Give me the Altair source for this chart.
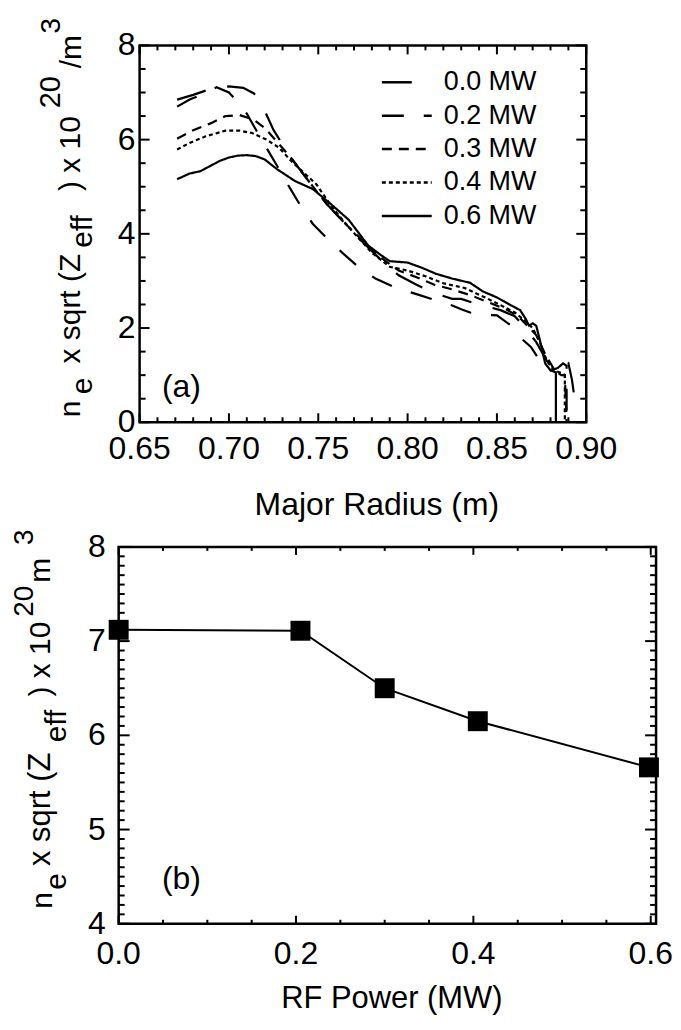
import altair as alt
import pandas as pd

FONT = "Liberation Sans"

# ---------------- panel (a) data: density profiles ----------------
SERIES = ["0.0 MW", "0.2 MW", "0.3 MW", "0.4 MW", "0.6 MW"]
DASHES = [[30, 22], [22, 20], [10, 7], [4, 3], [1, 0]]

R_00 = [0.671, 0.680, 0.690, 0.700, 0.708, 0.714, 0.718, 0.725, 0.735, 0.745,
        0.755, 0.765, 0.775, 0.785, 0.795, 0.805, 0.815, 0.825, 0.830, 0.838,
        0.845, 0.852, 0.860, 0.866, 0.872, 0.878, 0.883, 0.888, 0.890, 0.892, 0.894]
N_00 = [6.85, 6.95, 7.08, 7.13, 7.10, 6.98, 6.78, 6.20, 5.60, 5.10,
        4.62, 4.22, 3.82, 3.45, 3.12, 2.92, 2.74, 2.62, 2.62, 2.52,
        2.45, 2.38, 2.25, 2.00, 1.70, 1.30, 1.15, 1.20, 1.25, 0.90, 0.36]

R_02 = [0.671, 0.678, 0.685, 0.693, 0.700, 0.705, 0.710, 0.716, 0.722, 0.727,
        0.734, 0.740, 0.747, 0.755, 0.764, 0.773, 0.782, 0.793, 0.805, 0.815,
        0.825, 0.830, 0.835, 0.842, 0.850, 0.858, 0.863, 0.869, 0.875, 0.880,
        0.884, 0.887, 0.889, 0.889]
N_02 = [6.70, 6.85, 6.96, 7.11, 7.00, 6.80, 6.55, 6.15, 5.76, 5.44,
        4.98, 4.60, 4.21, 3.90, 3.58, 3.28, 3.05, 2.86, 2.72, 2.60,
        2.48, 2.40, 2.33, 2.28, 2.27, 2.05, 1.80, 1.60, 1.25, 1.10,
        1.15, 1.25, 1.20, 0.0]

R_03 = [0.671, 0.680, 0.690, 0.698, 0.706, 0.714, 0.720, 0.727, 0.735, 0.745,
        0.755, 0.765, 0.775, 0.785, 0.795, 0.805, 0.815, 0.825, 0.835, 0.845,
        0.855, 0.862, 0.867, 0.872, 0.877, 0.882, 0.886, 0.888, 0.889]
N_03 = [6.02, 6.20, 6.35, 6.50, 6.52, 6.42, 6.25, 5.95, 5.60, 5.10,
        4.62, 4.22, 3.85, 3.50, 3.22, 3.08, 2.92, 2.82, 2.70, 2.55,
        2.40, 2.25, 2.05, 1.85, 1.45, 1.12, 1.00, 1.00, 0.0]

R_04 = [0.671, 0.678, 0.687, 0.698, 0.706, 0.713, 0.721, 0.728, 0.735, 0.743,
        0.749, 0.758, 0.768, 0.780, 0.790, 0.800, 0.810, 0.820, 0.832, 0.845,
        0.855, 0.860, 0.866, 0.870, 0.874, 0.878, 0.882, 0.886, 0.888, 0.888]
N_04 = [5.79, 5.93, 6.07, 6.19, 6.19, 6.14, 6.00, 5.83, 5.54, 5.26,
        5.05, 4.55, 4.10, 3.60, 3.30, 3.22, 3.10, 2.95, 2.85, 2.62,
        2.43, 2.33, 2.15, 2.00, 1.70, 1.30, 1.10, 1.05, 1.00, 0.0]

R_06 = [0.671, 0.678, 0.684, 0.690, 0.695, 0.700, 0.705, 0.710, 0.715, 0.720,
        0.727, 0.737, 0.747, 0.758, 0.767, 0.771, 0.778, 0.785, 0.790, 0.800,
        0.808, 0.816, 0.825, 0.835, 0.842, 0.850, 0.857, 0.863, 0.866, 0.868,
        0.870, 0.872, 0.874, 0.877, 0.880, 0.883, 0.883]
N_06 = [5.16, 5.28, 5.33, 5.45, 5.55, 5.62, 5.66, 5.67, 5.65, 5.58,
        5.37, 5.12, 4.95, 4.60, 4.30, 4.10, 3.75, 3.55, 3.42, 3.39,
        3.28, 3.15, 3.05, 2.96, 2.78, 2.65, 2.50, 2.38, 2.20, 2.05,
        2.10, 2.05, 1.75, 1.25, 1.10, 1.06, 0.0]

TOP_X_MAJOR = [0.65, 0.70, 0.75, 0.80, 0.85, 0.90]
TOP_X_LABELS = ["0.65", "0.70", "0.75", "0.80", "0.85", "0.90"]
TOP_X_MINOR = [0.66, 0.67, 0.68, 0.69, 0.71, 0.72, 0.73, 0.74, 0.76, 0.77, 0.78, 0.79,
               0.81, 0.82, 0.83, 0.84, 0.86, 0.87, 0.88, 0.89]
TOP_Y_MAJOR = [0, 2, 4, 6, 8]
TOP_Y_LABELS = ["0", "2", "4", "6", "8"]
TOP_Y_MINOR = [0.5, 1, 1.5, 2.5, 3, 3.5, 4.5, 5, 5.5, 6.5, 7, 7.5]

# ---------------- panel (b) data: peak value vs RF power ----------------
RF_POWER = [0.0, 0.205, 0.30, 0.405, 0.598]
PEAK = [7.12, 7.11, 6.50, 6.15, 5.66]

BOT_X_MAJOR = [0.0, 0.2, 0.4, 0.6]
BOT_X_LABELS = ["0.0", "0.2", "0.4", "0.6"]
BOT_X_MINOR = [0.05, 0.1, 0.15, 0.25, 0.3, 0.35, 0.45, 0.5, 0.55]
BOT_Y_MAJOR = [4, 5, 6, 7, 8]
BOT_Y_LABELS = ["4", "5", "6", "7", "8"]
BOT_Y_MINOR = [4.1, 4.2, 4.3, 4.4, 4.5, 4.6, 4.7, 4.8, 4.9,
               5.1, 5.2, 5.3, 5.4, 5.5, 5.6, 5.7, 5.8, 5.9,
               6.1, 6.2, 6.3, 6.4, 6.5, 6.6, 6.7, 6.8, 6.9,
               7.1, 7.2, 7.3, 7.4, 7.5, 7.6, 7.7, 7.8, 7.9]

# ---------------- layout constants ----------------
W = 539
H = 378
TOP_RANGE = [21, 469]
LW = 2.2

rows = []
for name, xs, ys in zip(SERIES, [R_00, R_02, R_03, R_04, R_06], [N_00, N_02, N_03, N_04, N_06]):
    for i, (a, b) in enumerate(zip(xs, ys)):
        rows.append({"series": name, "r": a, "n": b, "o": i})
top_df = pd.DataFrame(rows)


def txt(text, x, y, size, angle=0, align="left", baseline="alphabetic"):
    return alt.Chart(pd.DataFrame({"t": [text]})).mark_text(
        font=FONT, fontSize=size, angle=angle, align=align, baseline=baseline, color="black"
    ).encode(text="t:N", x=alt.value(x), y=alt.value(y))


def vals(v, labels=None):
    d = {"v": v}
    if labels is not None:
        d["lab"] = labels
    return pd.DataFrame(d)


def frame_ticks(xmaj, xmin, ymaj, ymin, x0, x1, xmaj_len, xmin_len, ymaj_len, ymin_len):
    out = []
    for vs, L in [(xmaj, xmaj_len), (xmin, xmin_len)]:
        out.append(alt.Chart(vals(vs)).mark_rule(color="black", strokeWidth=2).encode(
            x="v:Q", y=alt.value(H), y2=alt.value(H - L)))
        out.append(alt.Chart(vals(vs)).mark_rule(color="black", strokeWidth=2).encode(
            x="v:Q", y=alt.value(0), y2=alt.value(L)))
    for vs, L in [(ymaj, ymaj_len), (ymin, ymin_len)]:
        out.append(alt.Chart(vals(vs)).mark_rule(color="black", strokeWidth=2, x2Offset=L).encode(
            y="v:Q", x=alt.datum(x0), x2=alt.datum(x0)))
        out.append(alt.Chart(vals(vs)).mark_rule(color="black", strokeWidth=2, x2Offset=-L).encode(
            y="v:Q", x=alt.datum(x1), x2=alt.datum(x1)))
    return out


# ================= panel (a) =================
top_x = alt.Scale(domain=[0.65, 0.90], range=TOP_RANGE, nice=False, zero=False)
top_y = alt.Scale(domain=[0, 8], nice=False, zero=False)

lines_a = alt.Chart(top_df).mark_line(color="black", strokeWidth=LW, clip=True).encode(
    x=alt.X("r:Q", scale=top_x, axis=None),
    y=alt.Y("n:Q", scale=top_y, axis=None),
    detail="series:N",
    order="o:Q",
    strokeDash=alt.StrokeDash("series:N", scale=alt.Scale(domain=SERIES, range=DASHES), legend=None),
)

frame_a = alt.Chart(vals([0])).mark_rect(fillOpacity=0, stroke="black", strokeWidth=2.5).encode(
    x=alt.datum(0.65), x2=alt.datum(0.90), y=alt.datum(0), y2=alt.datum(8))

# invisible corner that pins the page origin (top-left of the picture area)
anchor = alt.Chart(vals([0])).mark_rect(opacity=0).encode(
    x=alt.value(-111), x2=alt.value(-105), y=alt.value(-36), y2=alt.value(-30))

xlab_a = alt.Chart(vals(TOP_X_MAJOR, TOP_X_LABELS)).mark_text(
    font=FONT, fontSize=32, baseline="top", align="center", color="black").encode(
    x="v:Q", y=alt.value(H + 12), text="lab:N")
ylab_a = alt.Chart(vals(TOP_Y_MAJOR, TOP_Y_LABELS)).mark_text(
    font=FONT, fontSize=32, baseline="middle", align="right", color="black", dx=-4).encode(
    y="v:Q", x=alt.datum(0.65), text="lab:N")

legend_a = []
for i, name in enumerate(SERIES):
    yy = 37 + 33.5 * i
    legend_a.append(alt.Chart(vals([0])).mark_rule(color="black", strokeWidth=2.5, strokeDash=DASHES[i]).encode(
        x=alt.value(264), x2=alt.value(314), y=alt.value(yy)))
    legend_a.append(txt(name, 326, yy, 27, baseline="middle"))

title_a = [
    txt("n", -39, 373, 30, angle=270),
    txt("e", -27, 350, 30, angle=270),
    txt("x sqrt (Z", -39, 319, 30, angle=270),
    txt("eff", -27, 203, 30, angle=270),
    txt(") x 10", -39, 146, 30, angle=270),
    txt("20", -59, 63, 29, angle=270),
    txt("/m", -38, 23, 30, angle=270),
    txt("3", -59, -12, 28, angle=270),
    txt("Major Radius (m)", 259, 471, 32, align="center"),
    txt("(a)", 63, 343, 32, align="center", baseline="middle"),
]

top = alt.layer(
    anchor, lines_a, frame_a, xlab_a, ylab_a,
    *frame_ticks(TOP_X_MAJOR, TOP_X_MINOR, TOP_Y_MAJOR, TOP_Y_MINOR, 0.65, 0.90, 9, 5, 10, 6),
    *legend_a, *title_a,
).properties(width=W, height=H)

# ================= panel (b) =================
bot_x = alt.Scale(domain=[0.0, 0.606], nice=False, zero=False)
bot_y = alt.Scale(domain=[4, 8], nice=False, zero=False)
bdf = pd.DataFrame({"p": RF_POWER, "v": PEAK})

line_b = alt.Chart(bdf).mark_line(color="black", strokeWidth=2).encode(
    x=alt.X("p:Q", scale=bot_x, axis=None), y=alt.Y("v:Q", scale=bot_y, axis=None))
pts_b = alt.Chart(bdf).mark_point(shape="square", filled=True, size=400, color="black", opacity=1).encode(
    x="p:Q", y="v:Q")

frame_b = alt.Chart(vals([0])).mark_rect(fillOpacity=0, stroke="black", strokeWidth=2.5).encode(
    x=alt.datum(0.0), x2=alt.datum(0.606), y=alt.datum(4), y2=alt.datum(8))

xlab_b = alt.Chart(vals(BOT_X_MAJOR, BOT_X_LABELS)).mark_text(
    font=FONT, fontSize=32, baseline="top", align="center", color="black").encode(
    x="v:Q", y=alt.value(H + 15), text="lab:N")
ylab_b = alt.Chart(vals(BOT_Y_MAJOR, BOT_Y_LABELS)).mark_text(
    font=FONT, fontSize=32, baseline="middle", align="right", color="black", dx=-13).encode(
    y="v:Q", x=alt.datum(0.0), text="lab:N")

title_b = [
    txt("n", -67, 363, 30, angle=270),
    txt("e", -53, 344, 30, angle=270),
    txt("x sqrt (Z", -69, 320, 31, angle=270),
    txt("eff", -53, 196, 30, angle=270),
    txt(") x 10", -69, 150, 30, angle=270),
    txt("20", -86, 70, 28, angle=270),
    txt("m", -69, 36, 30, angle=270),
    txt("3", -86, -2, 28, angle=270),
    txt("RF Power (MW)", 274, 462, 31, align="center"),
    txt("(b)", 63, 333, 32, align="center", baseline="middle"),
]

bottom = alt.layer(
    line_b, pts_b, frame_b, xlab_b, ylab_b,
    *frame_ticks(BOT_X_MAJOR, BOT_X_MINOR, BOT_Y_MAJOR, BOT_Y_MINOR, 0.0, 0.606, 8, 4, 11, 6),
    *title_b,
).properties(width=W, height=H)

chart = alt.vconcat(top, bottom, spacing=125, bounds="flush").properties(
    padding={"left": 0, "top": 0, "right": 0, "bottom": 0}
).configure_view(stroke=None)

chart.save("out.html", embed_options={"renderer": "svg", "actions": False})
